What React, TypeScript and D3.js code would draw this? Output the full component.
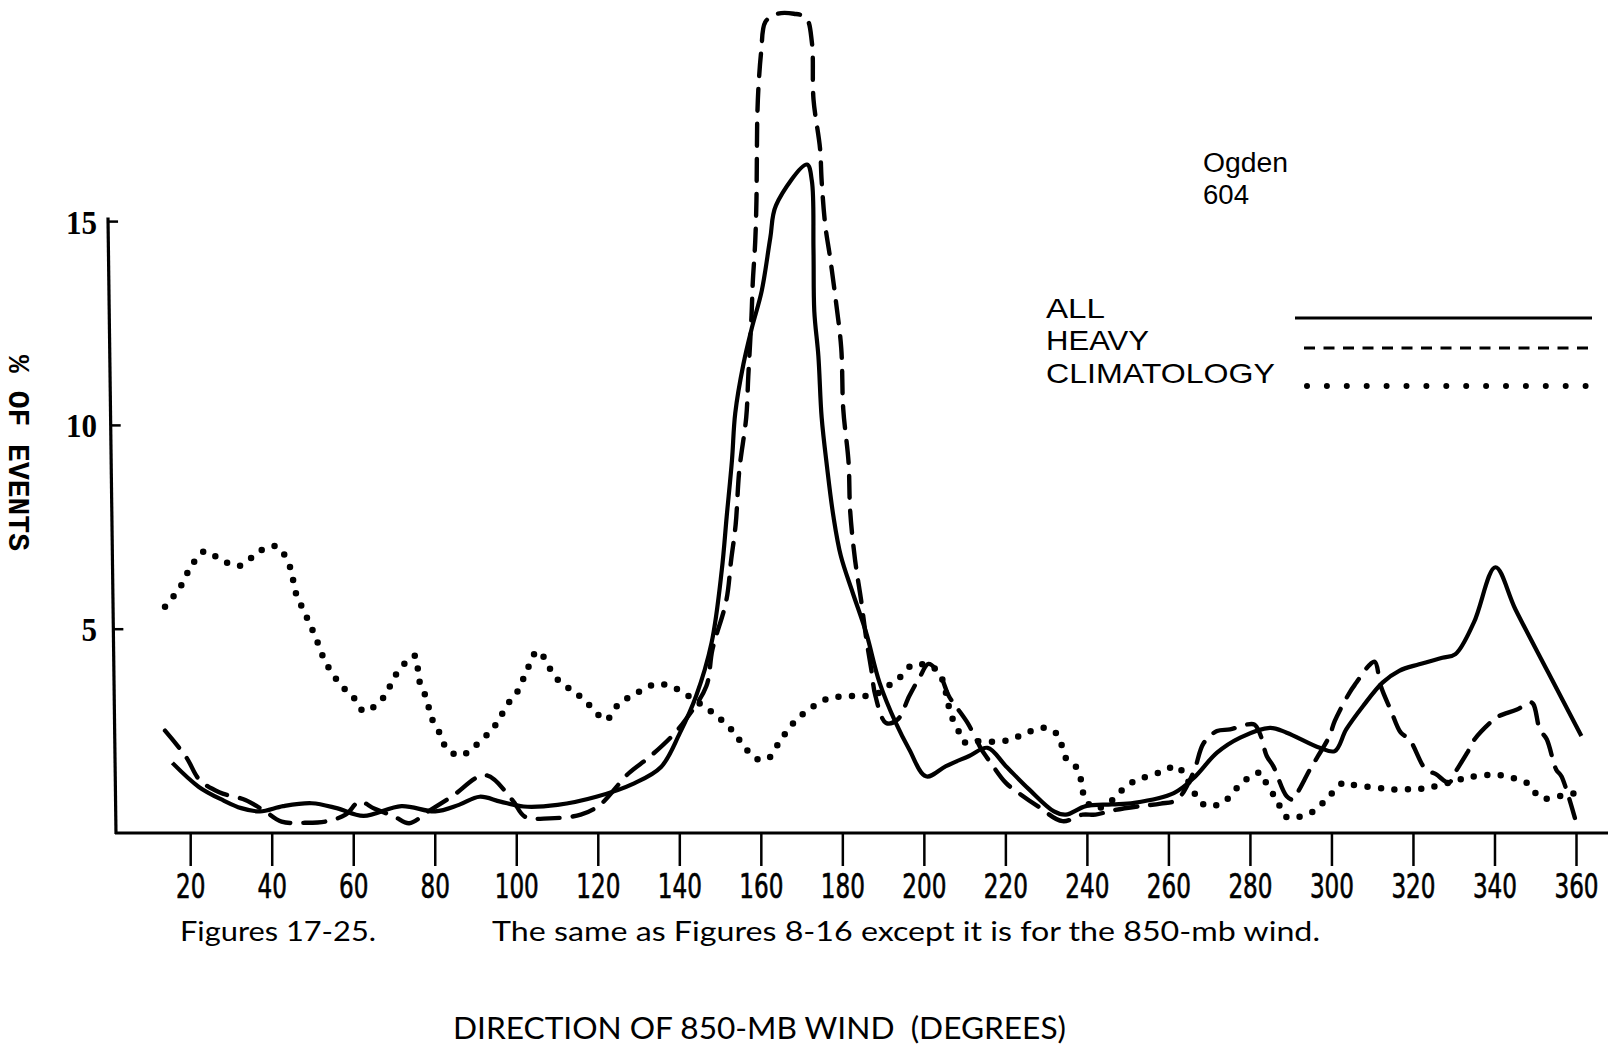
import React from "react";
import * as d3 from "d3";

// ---------- data ----------
const xTickValues = [20, 40, 60, 80, 100, 120, 140, 160, 180, 200, 220, 240, 260, 280, 300, 320, 340, 360];
const yTickValues = [5, 10, 15];

const seriesNames = ["ALL", "HEAVY", "CLIMATOLOGY"];

const allDeg = [15.5, 22, 28, 32.4, 37, 42.7, 49.7, 55.8, 62.4, 71.7, 80, 85.8, 90.9, 96, 101.7, 110, 119.5, 128.8, 135.4, 140, 144, 147.8, 150.3, 151.5, 152.8, 153.6, 155.6, 157.7, 160.1, 162.2, 163.6, 171.2, 172.4, 172.8, 173.0, 174, 174.8, 176.1, 177.7, 179.5, 182.4, 185.7, 189, 193, 196.3, 200.4, 205.3, 211, 215.5, 220, 225.7, 231.8, 234.7, 239.6, 246, 251.5, 261.2, 266.1, 271.8, 277.5, 284.8, 288.9, 297, 300.7, 303.5, 307.6, 312.4, 316.5, 321.4, 327.1, 330.3, 334.8, 340.1, 345, 353.1, 361.2];
const allVal = [1.72, 1.13, 0.8, 0.61, 0.53, 0.66, 0.73, 0.61, 0.42, 0.66, 0.53, 0.69, 0.89, 0.77, 0.65, 0.69, 0.89, 1.22, 1.62, 2.45, 3.36, 4.67, 6.45, 7.76, 9.15, 10.3, 11.5, 12.4, 13.3, 14.6, 15.4, 16.4, 16.0, 14.3, 12.8, 11.7, 10.2, 9.0, 7.76, 6.8, 5.9, 4.92, 3.69, 2.7, 2.05, 1.39, 1.64, 1.89, 2.09, 1.64, 1.07, 0.53, 0.45, 0.66, 0.7, 0.74, 0.98, 1.35, 1.97, 2.34, 2.58, 2.46, 2.09, 2.01, 2.54, 3.11, 3.69, 3.98, 4.14, 4.3, 4.39, 5.16, 6.52, 5.49, 3.93, 2.38];

const heavyDeg = [13.7, 18.9, 22.2, 27, 33.4, 38, 42.3, 48, 53, 58, 61.4, 65, 70, 73.6, 78.3, 84, 92.3, 98.9, 102, 108, 115.7, 120.4, 127.4, 132.5, 138.2, 141.5, 146.5, 148, 151.4, 152.6, 153.7, 154.6, 156.3, 156.8, 157.6, 157.9, 158.5, 158.8, 158.9, 159.0, 159.3, 160.0, 161, 164, 168, 171, 172.4, 172.8, 174.4, 174.8, 175.7, 176.9, 178.1, 179.6, 180.1, 181.4, 181.8, 183, 184.5, 185.7, 187, 188, 190.6, 193.5, 196.3, 199, 201, 203.7, 206, 207.8, 210.6, 212.7, 214, 216.3, 220, 223.7, 227.8, 233.9, 238.8, 242, 246, 253, 258, 262, 266, 268.5, 271.8, 275, 279, 281, 282.4, 284, 285.6, 288.9, 290.5, 292, 294.6, 296.6, 299.4, 300.7, 304.3, 306, 309, 310.5, 312, 314.5, 316.9, 319, 323, 325.4, 328.7, 330, 333.2, 335, 339.3, 341, 345.4, 349, 351, 352.7, 355, 356.3, 359.6];
const heavyVal = [2.51, 1.86, 1.3, 1.0, 0.81, 0.55, 0.28, 0.25, 0.28, 0.45, 0.77, 0.6, 0.4, 0.24, 0.53, 0.89, 1.42, 0.81, 0.4, 0.36, 0.45, 0.69, 1.46, 1.86, 2.39, 2.79, 3.6, 4.5, 5.7, 6.7, 7.56, 8.9, 10.2, 11.2, 12.7, 13.5, 14.5, 15.5, 16.5, 17.5, 18.3, 19.2, 19.9, 20.1, 20.1, 20.0, 19.4, 18.0, 16.8, 16.0, 14.9, 14.1, 13.2, 11.9, 10.4, 9.1, 7.9, 6.7, 5.7, 4.8, 4.0, 3.36, 2.7, 2.79, 3.36, 3.85, 4.15, 3.9, 3.36, 3.1, 2.7, 2.3, 2.05, 1.72, 1.23, 0.94, 0.66, 0.29, 0.45, 0.45, 0.55, 0.66, 0.72, 0.82, 1.48, 2.2, 2.5, 2.54, 2.66, 2.66, 2.42, 1.89, 1.64, 0.9, 0.82, 1.07, 1.56, 1.89, 2.38, 2.75, 3.44, 3.69, 4.1, 4.2, 3.6, 3.0, 2.46, 2.3, 1.56, 1.45, 1.23, 1.45, 1.97, 2.3, 2.75, 2.87, 3.03, 3.2, 2.54, 2.3, 1.56, 1.39, 0.37];

const climDeg = [13.7, 17.3, 20, 23.3, 28.2, 32.2, 37.1, 41.1, 44.4, 45.7, 48.2, 50.5, 53, 56.6, 60, 62.6, 66.1, 68, 69.7, 72.5, 75, 76.1, 77.8, 79.2, 81.4, 82.8, 86.2, 89, 91.2, 93.9, 95.6, 97.9, 100.1, 101.9, 103.3, 104.9, 106.3, 109.1, 111.3, 113.8, 116.1, 118.8, 121.8, 125.3, 128.3, 131.1, 134.1, 137.2, 140.9, 144.5, 148.6, 153, 156, 158.8, 161.6, 164.3, 166.3, 168.7, 171.2, 174.9, 177.7, 181, 184.5, 188, 191, 193.9, 196.7, 198.8, 201.6, 204, 205.3, 206.5, 208.6, 209.8, 212.7, 219.2, 223.3, 226.1, 229.4, 232.2, 233.5, 234.7, 237.1, 238.8, 239.2, 242, 246, 249, 252.3, 256.3, 259.6, 262, 267.3, 269.3, 272.2, 274.2, 277.1, 279.5, 282.4, 283.6, 285.6, 286.8, 288.5, 290.5, 295.4, 298.6, 302.7, 304.7, 310.8, 315.3, 319.8, 323.8, 332.8, 335.2, 340.1, 342.5, 347.8, 350.7, 352.3, 355.5, 358, 361.2];
const climVal = [5.55, 6.01, 6.52, 6.91, 6.66, 6.56, 6.93, 7.03, 6.52, 5.92, 5.35, 4.84, 4.21, 3.66, 3.32, 2.98, 3.2, 3.42, 3.78, 4.16, 4.35, 3.73, 3.31, 2.8, 2.39, 2.07, 1.9, 2.07, 2.27, 2.53, 2.78, 3.18, 3.46, 3.85, 4.17, 4.46, 4.36, 3.87, 3.65, 3.48, 3.3, 3.04, 2.77, 3.2, 3.36, 3.53, 3.65, 3.62, 3.44, 3.2, 2.91, 2.5, 2.09, 1.82, 1.82, 2.21, 2.5, 2.79, 2.99, 3.24, 3.32, 3.36, 3.36, 3.4, 3.6, 3.81, 4.1, 4.14, 4.1, 3.85, 3.44, 2.91, 2.46, 2.23, 2.25, 2.25, 2.38, 2.5, 2.58, 2.46, 2.21, 1.84, 1.64, 1.15, 0.86, 0.6, 0.8, 1.1, 1.31, 1.43, 1.57, 1.64, 0.82, 0.66, 0.7, 0.82, 1.15, 1.35, 1.48, 1.27, 0.94, 0.74, 0.41, 0.37, 0.53, 0.82, 1.23, 1.19, 1.11, 1.07, 1.08, 1.11, 1.35, 1.39, 1.43, 1.39, 1.23, 0.9, 0.84, 0.9, 0.94, 1.02];

const stationName = "Ogden";
const stationCount = "604";
const yAxisTitle = "% OF EVENTS";
const xAxisTitle = "DIRECTION OF 850-MB WIND\u00a0 (DEGREES)";
const captionLeft = "Figures 17-25.";
const captionRight = "The same as Figures 8-16 except it is for the 850-mb wind.";

type Pt = [number, number];
const zip = (a: number[], b: number[]): Pt[] => a.map((d, i) => [d, b[i]]);

export default function App() {
  const W = 1616;
  const H = 1044;
  const x = d3.scaleLinear().domain([20, 360]).range([190.7, 1576.5]);
  const y = d3.scaleLinear().domain([0, 15]).range([833, 221.6]);
  const line = d3
    .line<Pt>()
    .x((d) => x(d[0]))
    .y((d) => y(d[1]))
    .curve(d3.curveCatmullRom.alpha(0.5));

  const axisY = y(0);
  const axisTop = y(15) - 4;
  // slight hand-drawn lean of the vertical axis
  const axisXAt = (py: number) => 108 + ((py - axisTop) / (axisY - axisTop)) * 8;

  const tickFont = "'DejaVu Sans Condensed', 'DejaVu Sans', sans-serif";
  const textFont = "'Liberation Sans', Arial, sans-serif";
  const captionFont = "Lato, 'Open Sans', sans-serif";

  const legendRows = [
    { name: seriesNames[0], y: 318, x1: 1295, x2: 1592, dash: undefined as string | undefined, w: 3, cap: "butt" },
    { name: seriesNames[1], y: 348, x1: 1304, x2: 1590, dash: "11 8.5", w: 3, cap: "butt" },
    { name: seriesNames[2], y: 386, x1: 1307, x2: 1586, dash: "0 19.9", w: 6, cap: "round" },
  ];
  const legendTextY = [318, 350, 383];
  const legendTextW = [59, 103, 229];

  return (
    <svg
      width={W}
      height={H}
      viewBox={`0 0 ${W} ${H}`}
      style={{ position: "absolute", left: 0, top: 0, display: "block", background: "#fff" }}
    >
      <rect x={0} y={0} width={W} height={H} fill="#fff" />

      {/* axes */}
      <line x1={axisXAt(axisTop)} y1={axisTop} x2={axisXAt(axisY)} y2={axisY + 1} stroke="#000" strokeWidth={3.2} />
      <line x1={axisXAt(axisY) - 1} y1={axisY} x2={1608} y2={axisY} stroke="#000" strokeWidth={3.2} />

      {yTickValues.map((v) => {
        const py = y(v);
        const ax = axisXAt(py);
        return (
          <g key={"yt" + v}>
            <line x1={ax} y1={py} x2={ax + 10} y2={py} stroke="#000" strokeWidth={2.5} />
            <text
              x={97}
              y={py + 12}
              textAnchor="end"
              fontFamily="'Liberation Serif', 'DejaVu Serif', serif"
              fontWeight="bold"
              fontSize={33}
              textLength={String(v).length * 15.5}
              lengthAdjust="spacingAndGlyphs"
            >
              {v}
            </text>
          </g>
        );
      })}

      {xTickValues.map((t) => (
        <g key={"xt" + t}>
          <line x1={x(t)} y1={axisY} x2={x(t)} y2={866} stroke="#000" strokeWidth={2.5} />
          <text
            x={x(t)}
            y={898}
            textAnchor="middle"
            fontFamily={tickFont}
            fontSize={33}
            stroke="#000"
            strokeWidth={0.6}
            textLength={String(t).length * 14.7}
            lengthAdjust="spacingAndGlyphs"
          >
            {t}
          </text>
        </g>
      ))}

      {/* y axis title, rotated clockwise */}
      <text
        transform={`translate(9,453) rotate(90)`}
        textAnchor="middle"
        fontFamily="'Liberation Mono', 'DejaVu Sans Mono', monospace"
        fontWeight="bold"
        fontSize={29}
        textLength={196}
        lengthAdjust="spacingAndGlyphs"
      >
        {yAxisTitle}
      </text>

      {/* series */}
      <path d={line(zip(climDeg, climVal)) || ""} fill="none" stroke="#000" strokeWidth={6.5} strokeLinecap="round" strokeDasharray="0 13.5" />
      <path d={line(zip(heavyDeg, heavyVal)) || ""} fill="none" stroke="#000" strokeWidth={4.4} strokeDasharray="22 13" strokeLinecap="round" />
      <path d={line(zip(allDeg, allVal)) || ""} fill="none" stroke="#000" strokeWidth={4.2} strokeLinejoin="round" />

      {/* station label */}
      <text x={1203} y={172} fontFamily={textFont} fontSize={27} textLength={85} lengthAdjust="spacingAndGlyphs">
        {stationName}
      </text>
      <text x={1203} y={204} fontFamily={textFont} fontSize={27} textLength={46} lengthAdjust="spacingAndGlyphs">
        {stationCount}
      </text>

      {/* legend */}
      {legendRows.map((r, i) => (
        <g key={"lg" + i}>
          <text x={1046} y={legendTextY[i]} fontFamily={textFont} fontSize={28} textLength={legendTextW[i]} lengthAdjust="spacingAndGlyphs">
            {r.name}
          </text>
          <line
            x1={r.x1}
            y1={r.y}
            x2={r.x2}
            y2={r.y}
            stroke="#000"
            strokeWidth={r.w}
            strokeDasharray={r.dash}
            strokeLinecap={r.cap as any}
          />
        </g>
      ))}

      {/* caption and axis title */}
      <text x={180} y={941} fontFamily={captionFont} fontSize={27} textLength={196} lengthAdjust="spacingAndGlyphs">
        {captionLeft}
      </text>
      <text x={492} y={941} fontFamily={captionFont} fontSize={27} textLength={828} lengthAdjust="spacingAndGlyphs">
        {captionRight}
      </text>
      <text x={453} y={1039} fontFamily={captionFont} fontSize={30} textLength={613} lengthAdjust="spacingAndGlyphs">
        {xAxisTitle}
      </text>
    </svg>
  );
}
